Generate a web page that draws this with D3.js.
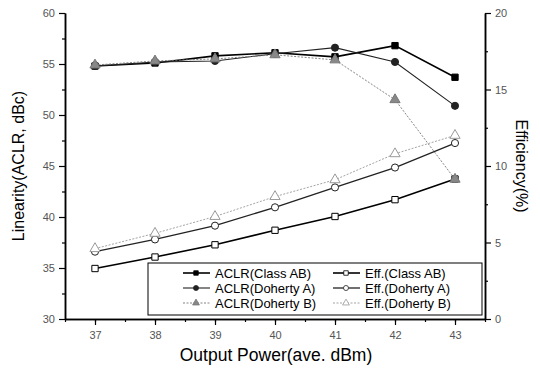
<!DOCTYPE html>
<html>
<head>
<meta charset="utf-8">
<script src="https://cdn.jsdelivr.net/npm/d3@7"></script>
<style>
    body { margin: 0; background: #fff; }
    text { font-family: "Liberation Sans", Arial, sans-serif; }
</style>
</head>
<body>
<svg id="chart" width="540" height="370"></svg>
<script>
// chart data
let power = [37, 38, 39, 40, 41, 42, 43];
let aclrClassAB   = [54.8, 55.1, 55.8, 56.1, 55.7, 56.8, 53.7];
let aclrDohertyA  = [54.8, 55.2, 55.3, 56.0, 56.6, 55.2, 50.9];
let aclrDohertyB  = [54.9, 55.3, 55.5, 55.9, 55.4, 51.5, 43.7];
let effClassAB    = [3.3, 4.05, 4.85, 5.8, 6.7, 7.8, 9.15];
let effDohertyA   = [4.4, 5.2, 6.1, 7.3, 8.6, 9.9, 11.5];
let effDohertyB   = [4.6, 5.6, 6.7, 8.0, 9.1, 10.8, 12.0];
let leftTicks = [30, 35, 40, 45, 50, 55, 60];
let rightTicks = [0, 5, 10, 15, 20];

let margin = {top: 13, right: 55, bottom: 51, left: 65},
    width = 540 - margin.left - margin.right,
    height = 370 - margin.top - margin.bottom;

let svg = d3.select("#chart");
let g = svg.append("g")
    .attr("transform", "translate(" + margin.left + "," + margin.top + ")");

let xScale = d3.scaleLinear().domain([36.5, 43.5]).range([0, width]);
let yLeft = d3.scaleLinear().domain([30, 60]).range([height, 0]);
let yRight = d3.scaleLinear().domain([0, 20]).range([height, 0]);

// axes (major + minor ticks)
function styleAxis(sel) {
    sel.select(".domain").attr("stroke", "#000").attr("stroke-width", 1.5);
    sel.selectAll(".tick line").attr("stroke", "#000").attr("stroke-width", 1.2);
    sel.selectAll("text").attr("fill", "#555").style("font-size", "11px");
}

let xMinor = d3.range(36.5, 43.51, 0.5);
g.append("g").attr("transform", "translate(0," + height + ")")
    .call(d3.axisBottom(xScale).tickValues(xMinor).tickSize(3).tickFormat("").tickSizeOuter(0))
    .call(styleAxis);
g.append("g").attr("transform", "translate(0," + height + ")")
    .call(d3.axisBottom(xScale).tickValues(power).tickSize(6).tickPadding(6).tickFormat(d3.format("d")).tickSizeOuter(0))
    .call(styleAxis);

g.append("g")
    .call(d3.axisLeft(yLeft).tickValues(d3.range(32.5, 60, 5)).tickSize(3).tickFormat("").tickSizeOuter(0))
    .call(styleAxis);
g.append("g")
    .call(d3.axisLeft(yLeft).tickValues(leftTicks).tickSize(6).tickPadding(4).tickSizeOuter(0))
    .call(styleAxis);

g.append("g").attr("transform", "translate(" + width + ",0)")
    .call(d3.axisRight(yRight).tickValues(d3.range(2.5, 20, 5)).tickSize(3).tickFormat("").tickSizeOuter(0))
    .call(styleAxis);
g.append("g").attr("transform", "translate(" + width + ",0)")
    .call(d3.axisRight(yRight).tickValues(rightTicks).tickSize(6).tickPadding(4).tickSizeOuter(0))
    .call(styleAxis);

// axis titles
svg.append("text")
    .attr("transform", "translate(24," + (margin.top + height / 2) + ") rotate(-90)")
    .attr("text-anchor", "middle")
    .style("font-size", "16px")
    .text("Linearity(ACLR, dBc)");
svg.append("text")
    .attr("transform", "translate(516," + (margin.top + height / 2) + ") rotate(90)")
    .attr("text-anchor", "middle")
    .style("font-size", "16px")
    .text("Efficiency(%)");
svg.append("text")
    .attr("x", margin.left + width / 2 + 1)
    .attr("y", 361)
    .attr("text-anchor", "middle")
    .style("font-size", "17.5px")
    .text("Output Power(ave. dBm)");

// series definitions
let series = [
    {name: "ACLR(Class AB)",   vals: aclrClassAB,  y: yLeft,  shape: "square",   fill: "#000", stroke: "#000", width: 1.6, dash: null},
    {name: "Eff.(Class AB)",   vals: effClassAB,   y: yRight, shape: "square",   fill: "#fff", stroke: "#000", width: 1.6, dash: null},
    {name: "ACLR(Doherty A)",  vals: aclrDohertyA, y: yLeft,  shape: "circle",   fill: "#222", stroke: "#222", width: 1.1, dash: null},
    {name: "Eff.(Doherty A)",  vals: effDohertyA,  y: yRight, shape: "circle",   fill: "#fff", stroke: "#222", width: 1.3, dash: null},
    {name: "ACLR(Doherty B)",  vals: aclrDohertyB, y: yLeft,  shape: "triangle", fill: "#888", stroke: "#777", width: 0.9, dash: "2,1.5"},
    {name: "Eff.(Doherty B)",  vals: effDohertyB,  y: yRight, shape: "triangle", fill: "#fff", stroke: "#999", width: 0.9, dash: "2,1.5"}
];

let symbols = {square: d3.symbolSquare, circle: d3.symbolCircle, triangle: d3.symbolTriangle};

series.forEach(s => {
    let line = d3.line()
        .x((d, i) => xScale(power[i]))
        .y(d => s.y(d));
    g.append("path")
        .datum(s.vals)
        .attr("fill", "none")
        .attr("stroke", s.stroke)
        .attr("stroke-width", s.width)
        .attr("stroke-dasharray", s.dash)
        .attr("d", line);
    g.selectAll(null)
        .data(s.vals)
        .enter().append("path")
        .attr("transform", (d, i) => "translate(" + xScale(power[i]) + "," + s.y(d) + ")")
        .attr("d", d3.symbol().type(symbols[s.shape]).size(s.shape == "triangle" ? 45 : 40))
        .attr("fill", s.fill)
        .attr("stroke", s.stroke)
        .attr("stroke-width", 1);
});

// legend
let legend = svg.append("g").attr("transform", "translate(148,263)");
legend.append("rect")
    .attr("width", 334).attr("height", 52)
    .attr("fill", "#fff").attr("stroke", "#000").attr("stroke-width", 1);

series.forEach((s, j) => {
    let col = j % 2, row = Math.floor(j / 2);
    let lx = col == 0 ? 35 : 185, ly = 10 + row * 15;
    legend.append("line")
        .attr("x1", lx).attr("x2", lx + 27).attr("y1", ly).attr("y2", ly)
        .attr("stroke", s.stroke).attr("stroke-width", s.width)
        .attr("stroke-dasharray", s.dash);
    legend.append("path")
        .attr("transform", "translate(" + (lx + 13) + "," + ly + ")")
        .attr("d", d3.symbol().type(symbols[s.shape]).size(20))
        .attr("fill", s.fill).attr("stroke", s.stroke).attr("stroke-width", 0.8);
    legend.append("text")
        .attr("x", lx + 32).attr("y", ly + 5)
        .style("font-size", "13px")
        .text(s.name);
});
</script>
</body>
</html>
